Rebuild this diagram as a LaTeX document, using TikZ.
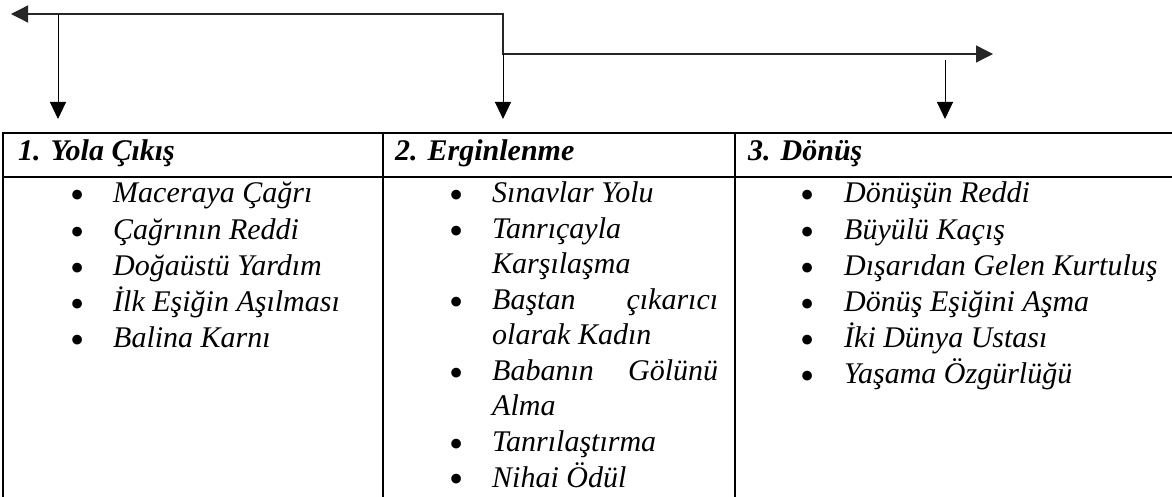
\documentclass[tikz,border=0pt]{standalone}
\usepackage{fontspec}
\usepackage{graphicx}
\setmainfont{Liberation Serif}
\usetikzlibrary{arrows.meta}

\newcommand{\bodysize}{\fontsize{30}{36.1}\selectfont}
\newcommand{\itemdot}{\raisebox{-0.2em}{\scalebox{1.35}{\upshape\textbullet}}}

\begin{document}
\begin{tikzpicture}[
        x=1pt, y=-1pt,
        tline/.style={line width=2pt},
        arrow/.style={-{Triangle[length=17pt, width=16pt]}, line width=1pt},
        link/.style={{Triangle[length=17pt, width=17pt]}-{Triangle[length=17pt, width=17pt]}, line width=1.3pt, draw=black!85},
        head/.style={anchor=base west, inner sep=0pt, font=\bodysize\bfseries\itshape},
        items/.style={anchor=base west, inner sep=0pt, font=\bodysize\itshape}
    ]
    \useasboundingbox (0,0) rectangle (1172,497);

    % Table
    \draw[tline] (1180,133) -- (3,133) -- (3,505);
    \draw[tline] (3,177) -- (1180,177);
    \foreach \x in {383,735}
        \draw[tline] (\x,133) -- (\x,505);

    % Headers
    \node[head] (yola) at (18,161) {1. Yola Çıkış};
    \node[head] (ergin) at (395,161) {2. Erginlenme};
    \node[head] (donus) at (748,161) {3. Dönüş};

    % Lists
    \node[items] (yolalist) at (70,203) {\begin{tabular}[t]{@{}p{43pt}@{}p{260pt}@{}}
        \itemdot & Maceraya Çağrı\\
        \itemdot & Çağrının Reddi\\
        \itemdot & Doğaüstü Yardım\\
        \itemdot & İlk Eşiğin Aşılması\\
        \itemdot & Balina Karnı
    \end{tabular}};
    \node[items, font=\fontsize{30}{35.5}\selectfont\itshape] (erginlist) at (449,203) {\begin{tabular}[t]{@{}p{43pt}@{}p{226pt}@{}}
        \itemdot & Sınavlar Yolu\\
        \itemdot & Tanrıçayla\newline Karşılaşma\\
        \itemdot & Baştan\hfill çıkarıcı\newline olarak Kadın\\
        \itemdot & Babanın\hfill Gölünü\newline Alma\\
        \itemdot & Tanrılaştırma\\
        \itemdot & Nihai Ödül
    \end{tabular}};
    \node[items] (donuslist) at (800,203) {\begin{tabular}[t]{@{}p{44pt}@{}p{320pt}@{}}
        \itemdot & Dönüşün Reddi\\
        \itemdot & Büyülü Kaçış\\
        \itemdot & Dışarıdan Gelen Kurtuluş\\
        \itemdot & Dönüş Eşiğini Aşma\\
        \itemdot & İki Dünya Ustası\\
        \itemdot & Yaşama Özgürlüğü
    \end{tabular}};

    % Arrows
    \coordinate (west) at (11,14);
    \coordinate (bend) at (503,14);
    \coordinate (east) at (993,54);
    \draw[link] (west) -- (bend) |- (east);

    \coordinate (s1) at (58,14);
    \coordinate (t1) at (58,119);
    \coordinate (s2) at (503,54);
    \coordinate (t2) at (503,119);
    \coordinate (s3) at (945,60);
    \coordinate (t3) at (945,119);
    \foreach \i in {1,2,3}
        \draw[arrow] (s\i) -- (t\i);

\end{tikzpicture}
\end{document}
